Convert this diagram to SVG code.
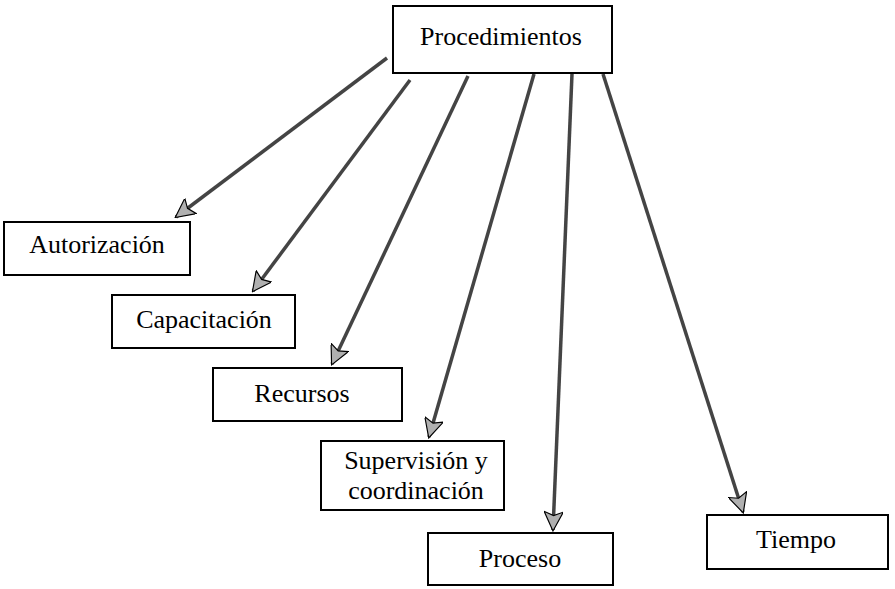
<svg xmlns="http://www.w3.org/2000/svg" width="895" height="589" viewBox="0 0 895 589">
<defs>
<style>
.box{fill:#fff;stroke:#000;stroke-width:2}
.t{font-family:"Liberation Serif","Times New Roman",serif;font-size:26px;fill:#000;text-anchor:middle}
.c{stroke:#444;stroke-width:3.5;fill:none}
</style>
<marker id="ah" viewBox="0 0 10 10" refX="9.5" refY="5" markerWidth="6" markerHeight="5.5" orient="auto" markerUnits="strokeWidth">
<path d="M0,0 L10,5 L0,10 L2,5 Z" fill="#b0b0b0" stroke="#000" stroke-width="0.6"/>
</marker>
</defs>
<rect width="895" height="589" fill="#fff"/>
<g id="connectors">
<line class="c" x1="387" y1="58" x2="176" y2="217" marker-end="url(#ah)"/>
<line class="c" x1="410" y1="80" x2="253" y2="291" marker-end="url(#ah)"/>
<line class="c" x1="468" y1="76" x2="332" y2="364" marker-end="url(#ah)"/>
<line class="c" x1="534" y1="74" x2="429" y2="437" marker-end="url(#ah)"/>
<line class="c" x1="572" y1="74" x2="553" y2="530" marker-end="url(#ah)"/>
<line class="c" x1="603" y1="74" x2="743" y2="512" marker-end="url(#ah)"/>
</g>
<g id="n-procedimientos"><rect class="box" x="393" y="6" width="219" height="67"/><text class="t" x="501" y="45">Procedimientos</text></g>
<g id="n-autorizacion"><rect class="box" x="4" y="222" width="186" height="53"/><text class="t" x="97" y="253">Autorización</text></g>
<g id="n-capacitacion"><rect class="box" x="112" y="295" width="183" height="53"/><text class="t" x="204" y="328">Capacitación</text></g>
<g id="n-recursos"><rect class="box" x="213" y="368" width="189" height="53"/><text class="t" x="302" y="402">Recursos</text></g>
<g id="n-supervision"><rect class="box" x="321" y="441" width="183" height="69"/><text class="t" x="416" y="469">Supervisión y</text><text class="t" x="416" y="499">coordinación</text></g>
<g id="n-proceso"><rect class="box" x="428" y="533" width="185" height="52"/><text class="t" x="520" y="567">Proceso</text></g>
<g id="n-tiempo"><rect class="box" x="707" y="515" width="181" height="54"/><text class="t" x="796" y="548">Tiempo</text></g>
</svg>
